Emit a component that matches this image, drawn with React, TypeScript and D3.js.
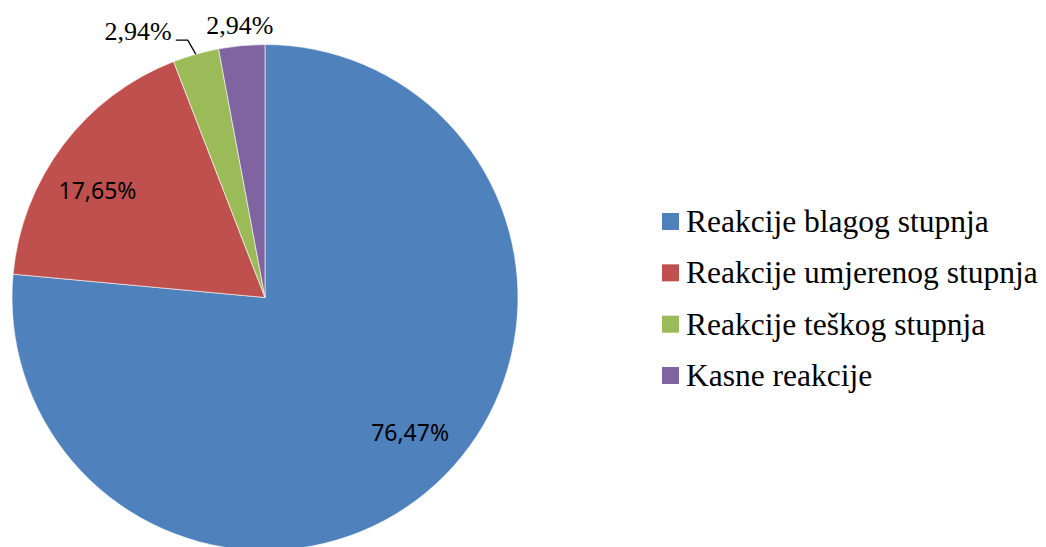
import React from "react";
import * as d3 from "d3";

const categories = [
  "Reakcije blagog stupnja",
  "Reakcije umjerenog stupnja",
  "Reakcije teškog stupnja",
  "Kasne reakcije",
];
const values = [26, 6, 1, 1];
const labels = ["76,47%", "17,65%", "2,94%", "2,94%"];
const colors = ["#4F81BD", "#C0504D", "#9BBB59", "#8064A2"];

const W = 1046;
const H = 547;
const cx = 265;
const cy = 297.5;
const R = 253;
const SERIF = "Liberation Serif, Times New Roman, Times, serif";

export default function App() {
  const pie = d3.pie<number>().sort(null).value((d) => d)(values);
  const arc = d3.arc<d3.PieArcDatum<number>>().innerRadius(0).outerRadius(R);

  const legendY = d3.scalePoint<string>().domain(categories).range([221.5, 375.5]);

  const pt = (a: number, r: number) => [Math.sin(a) * r, -Math.cos(a) * r];

  return (
    <svg
      width={W}
      height={H}
      style={{ position: "absolute", left: 0, top: 0, background: "#fff" }}
    >
      <g transform={`translate(${cx},${cy})`}>
        {pie.map((p, i) => (
          <path key={i} d={arc(p) || ""} fill={colors[i]} stroke="#fff" strokeWidth={0.6} />
        ))}
        {pie.map((p, i) => {
          const mid = (p.startAngle + p.endAngle) / 2;
          if (i < 2) {
            const [x, y] = pt(mid - 0.08, R * 0.785);
            return (
              <text
                key={"l" + i}
                x={x}
                y={y}
                dy="0.36em"
                textAnchor="middle"
                fontFamily="Noto Sans, sans-serif"
                fontSize={23}
                fill="#000"
              >
                {labels[i]}
              </text>
            );
          }
          if (i === 3) {
            const [x, y] = pt(mid, R + 21);
            return (
              <text
                key={"l" + i}
                x={x}
                y={y}
                dy="0.35em"
                textAnchor="middle"
                fontFamily={SERIF}
                fontSize={26}
                fill="#000"
              >
                {labels[i]}
              </text>
            );
          }
          const [ex, ey] = pt(mid, R);
          const bx = ex - 8;
          const by = ey - 14;
          const hx = bx - 12;
          return (
            <g key={"l" + i}>
              <polyline
                points={`${ex},${ey} ${bx},${by} ${hx},${by}`}
                fill="none"
                stroke="#000"
                strokeWidth={1.3}
              />
              <text
                x={hx - 4}
                y={by}
                textAnchor="end"
                fontFamily={SERIF}
                fontSize={26}
                fill="#000"
              >
                {labels[i]}
              </text>
            </g>
          );
        })}
      </g>
      <g>
        {categories.map((c, i) => {
          const y = legendY(c) as number;
          return (
            <g key={c}>
              <rect x={662} y={y - 8.5} width={17} height={17} fill={colors[i]} />
              <text x={686} y={y + 10.5} fontFamily={SERIF} fontSize={31.5} fill="#000">
                {c}
              </text>
            </g>
          );
        })}
      </g>
    </svg>
  );
}
